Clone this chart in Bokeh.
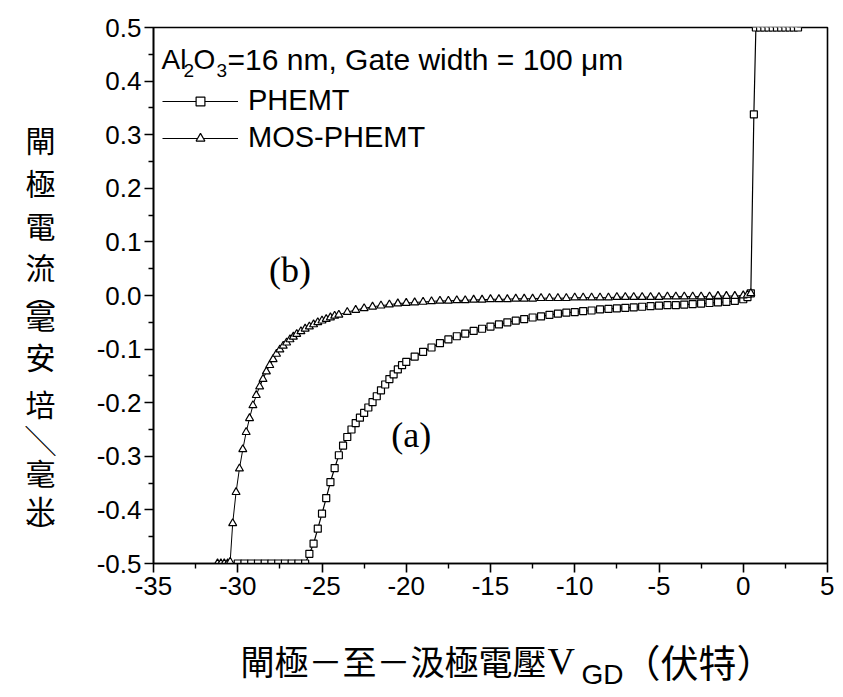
from bokeh.plotting import figure
from bokeh.layouts import row, column
from bokeh.models import Label, Legend, LegendItem, FixedTicker, NumeralTickFormatter, Range1d
from bokeh.embed import file_html
from bokeh.resources import INLINE

# ---------------- data ----------------
phemt_v = [-30.0, -29.6, -29.2, -28.8, -28.4, -28.0, -27.6, -27.2, -26.8, -26.4, -26.0,
           -25.75, -25.5, -25.25, -25.0, -24.75, -24.5, -24.25, -24.0, -23.75, -23.5,
           -23.25, -23.0, -22.75, -22.5, -22.25, -22.0, -21.75, -21.5, -21.25, -21.0,
           -20.75, -20.5, -20.25, -20.0,
           -19.5, -19.0, -18.5, -18.0, -17.5, -17.0, -16.5, -16.0, -15.5, -15.0,
           -14.5, -14.0, -13.5, -13.0, -12.5, -12.0, -11.5, -11.0, -10.5, -10.0,
           -9.5, -9.0, -8.5, -8.0, -7.5, -7.0, -6.5, -6.0, -5.5, -5.0,
           -4.5, -4.0, -3.5, -3.0, -2.5, -2.0, -1.5, -1.0, -0.5, 0.0,
           0.25, 0.45, 0.63, 0.75, 1.0, 1.25, 1.5, 1.75, 2.0, 2.25, 2.5, 2.75, 3.0, 3.25]
phemt_i = [-0.5, -0.5, -0.5, -0.5, -0.5, -0.5, -0.5, -0.5, -0.5, -0.5, -0.5,
           -0.482, -0.463, -0.435, -0.407, -0.378, -0.348, -0.322, -0.298, -0.280, -0.264,
           -0.250, -0.238, -0.228, -0.219, -0.209, -0.199, -0.188, -0.177, -0.166, -0.156,
           -0.147, -0.138, -0.130, -0.124,
           -0.114, -0.105, -0.097, -0.089, -0.082, -0.076, -0.071, -0.066, -0.062, -0.058,
           -0.054, -0.050, -0.047, -0.044, -0.041, -0.039, -0.036, -0.034, -0.032, -0.031,
           -0.029, -0.028, -0.026, -0.025, -0.024, -0.023, -0.022, -0.021, -0.020, -0.019,
           -0.018, -0.018, -0.017, -0.016, -0.015, -0.014, -0.013, -0.012, -0.010, -0.007,
           -0.003, 0.004, 0.338, 0.5, 0.5, 0.5, 0.5, 0.5, 0.5, 0.5, 0.5, 0.5, 0.5, 0.5]

mos_v = [-31.2, -31.0, -30.8, -30.6, -30.45, -30.3, -30.1, -29.9, -29.7, -29.5,
         -29.3, -29.1, -28.9, -28.7, -28.5, -28.3, -28.1, -27.9, -27.7, -27.5,
         -27.3, -27.1, -26.9, -26.7, -26.5, -26.25, -26.0, -25.75, -25.5, -25.25,
         -25.0, -24.75, -24.5, -24.25, -24.0, -23.5, -23.0, -22.5, -22.0, -21.5,
         -21.0, -20.5, -20.0, -19.5, -19.0, -18.5, -18.0, -17.5, -17.0, -16.5,
         -16.0, -15.5, -15.0, -14.5, -14.0, -13.5, -13.0, -12.5, -12.0, -11.5,
         -11.0, -10.5, -10.0, -9.5, -9.0, -8.5, -8.0, -7.5, -7.0, -6.5,
         -6.0, -5.5, -5.0, -4.5, -4.0, -3.5, -3.0, -2.5, -2.0, -1.5,
         -1.0, -0.5, 0.0, 0.25, 0.45]
mos_i = [-0.5, -0.5, -0.5, -0.5, -0.497, -0.425, -0.367, -0.323, -0.287, -0.255,
         -0.229, -0.205, -0.186, -0.170, -0.156, -0.142, -0.130, -0.119, -0.109, -0.101,
         -0.094, -0.088, -0.082, -0.077, -0.072, -0.067, -0.062, -0.058, -0.054, -0.050,
         -0.047, -0.044, -0.041, -0.038, -0.036, -0.031, -0.027, -0.024, -0.021, -0.019,
         -0.017, -0.015, -0.014, -0.013, -0.012, -0.011, -0.010, -0.010, -0.009, -0.009,
         -0.008, -0.008, -0.007, -0.007, -0.007, -0.006, -0.006, -0.006, -0.005, -0.005,
         -0.005, -0.005, -0.004, -0.004, -0.004, -0.004, -0.004, -0.003, -0.003, -0.003,
         -0.003, -0.003, -0.003, -0.002, -0.002, -0.002, -0.002, -0.002, -0.002, -0.001,
         -0.001, -0.001, 0.000, 0.001, 0.004]

x_ticks = [-35, -30, -25, -20, -15, -10, -5, 0, 5]
x_minor = [-32.5, -27.5, -22.5, -17.5, -12.5, -7.5, -2.5, 2.5]
y_ticks = [-0.5, -0.4, -0.3, -0.2, -0.1, 0.0, 0.1, 0.2, 0.3, 0.4, 0.5]
y_minor = [-0.45, -0.35, -0.25, -0.15, -0.05, 0.05, 0.15, 0.25, 0.35, 0.45]

series_names = ["PHEMT", "MOS-PHEMT"]
# vertical writing: presentation forms for the brackets and the slash
y_label_chars = ["閘", "極", "電", "流", "︵", "毫", "安", "培", "╲", "毫", "米", "︶"]
x_label_main = "閘極－至－汲極電壓"
x_label_unit = "（伏特）"

SANS = "Liberation Sans"
SERIF = "Liberation Serif"
CJK = "Noto Sans CJK TC"

LEFT_W = 88
MAIN_H = 618
BOTTOM_H = 75
FRAME_TOP, FRAME_BOTTOM = 27, 563   # page rows of the plot frame

# ---------------- main figure ----------------
p = figure(frame_width=674, frame_height=536, x_range=(-35, 5), y_range=(-0.5, 0.5),
           output_backend="svg", toolbar_location=None,
           min_border_left=153 - LEFT_W, min_border_right=7, min_border_top=FRAME_TOP,
           min_border_bottom=MAIN_H - FRAME_TOP - 536)
p.grid.visible = False
p.outline_line_color = "black"
p.outline_line_width = 1.6
p.background_fill_color = "white"
p.border_fill_color = "white"

p.xaxis.ticker = FixedTicker(ticks=x_ticks, minor_ticks=x_minor)
p.yaxis.ticker = FixedTicker(ticks=y_ticks, minor_ticks=y_minor)
p.xaxis.formatter = NumeralTickFormatter(format="0")
p.yaxis.formatter = NumeralTickFormatter(format="0.0")
for ax in (p.xaxis, p.yaxis):
    ax.axis_line_width = 1.6
    ax.axis_line_color = "black"
    ax.major_tick_line_width = 1.6
    ax.minor_tick_line_width = 1.4
    ax.major_tick_out = 9
    ax.major_tick_in = 0
    ax.minor_tick_out = 5
    ax.minor_tick_in = 0
    ax.major_label_text_font = SANS
    ax.major_label_text_font_size = "26px"
    ax.major_label_text_color = "black"
p.xaxis.major_label_standoff = 4
p.yaxis.major_label_standoff = 3

r_p_line = p.line(phemt_v, phemt_i, line_color="black", line_width=1.2)
r_p_mark = p.scatter(phemt_v, phemt_i, marker="square", size=7, fill_color="white",
                     line_color="black", line_width=1.2)
r_m_line = p.line(mos_v, mos_i, line_color="black", line_width=1.0)
r_m_mark = p.scatter(mos_v, mos_i, marker="triangle", size=8, fill_color="white",
                     line_color="black", line_width=1.2)

legend = Legend(items=[LegendItem(label=series_names[0], renderers=[r_p_line, r_p_mark]),
                       LegendItem(label=series_names[1], renderers=[r_m_line, r_m_mark])],
                location=(9, 409), glyph_width=76, glyph_height=22, label_height=22,
                label_standoff=10, spacing=4, padding=0, margin=0,
                border_line_color=None, background_fill_alpha=0,
                label_text_font=SANS, label_text_font_size="29px",
                label_text_color="black")
p.add_layout(legend)


def lab(fig, text, x, y, size, font=SANS, units="screen", align="left",
        baseline="alphabetic"):
    fig.add_layout(Label(x=x, y=y, x_units=units, y_units=units, text=text,
                         text_font=font, text_font_size=size, text_align=align,
                         text_baseline=baseline, text_color="black"))


lab(p, "Al", 8, 504, "28px")
lab(p, "2", 30, 493, "19px")
lab(p, "O", 40, 504, "28px")
lab(p, "3", 63, 493, "19px")
lab(p, "=16 nm, Gate width = 100 μm", 74, 504, "30px")

lab(p, "(b)", -26.9, 0.047, "36px", font=SERIF, units="data", align="center", baseline="middle")
lab(p, "(a)", -19.7, -0.261, "36px", font=SERIF, units="data", align="center", baseline="middle")


# ---------------- helper canvases for the axis titles ----------------
def blank(w, h, yr):
    f = figure(width=w, height=h, x_range=Range1d(0, w), y_range=yr,
               output_backend="svg", toolbar_location=None, x_axis_type=None,
               y_axis_type=None, min_border=0)
    f.grid.visible = False
    f.outline_line_color = None
    f.background_fill_color = "white"
    f.border_fill_color = "white"
    return f


# vertical y title with upright characters (frame of this canvas is aligned to the
# plot frame by the row layout, so y is given in page rows)
pl = blank(LEFT_W, MAIN_H, Range1d(FRAME_BOTTOM, FRAME_TOP))
y_centers = [138, 181, 224, 265, 291, 315, 355, 402, 438, 471, 508, 530]
for ch, py in zip(y_label_chars, y_centers):
    lab(pl, ch, 40, py, "30px", font=CJK, units="data", align="center", baseline="middle")

# x title
pb = blank(LEFT_W + 747, BOTTOM_H, Range1d(BOTTOM_H, 0))
yb = 660 - MAIN_H
lab(pb, x_label_main, 240, yb, "34px", font=CJK, units="data", baseline="middle")
lab(pb, "V", 547, yb, "38px", font=SERIF, units="data", baseline="middle")
lab(pb, "GD", 581, 674 - MAIN_H, "28px", font=SANS, units="data", baseline="middle")
lab(pb, x_label_unit, 622, yb, "38px", font=CJK, units="data", baseline="middle")

layout = column(row(pl, p), pb)
open("out.html", "w").write(file_html(layout, INLINE))
